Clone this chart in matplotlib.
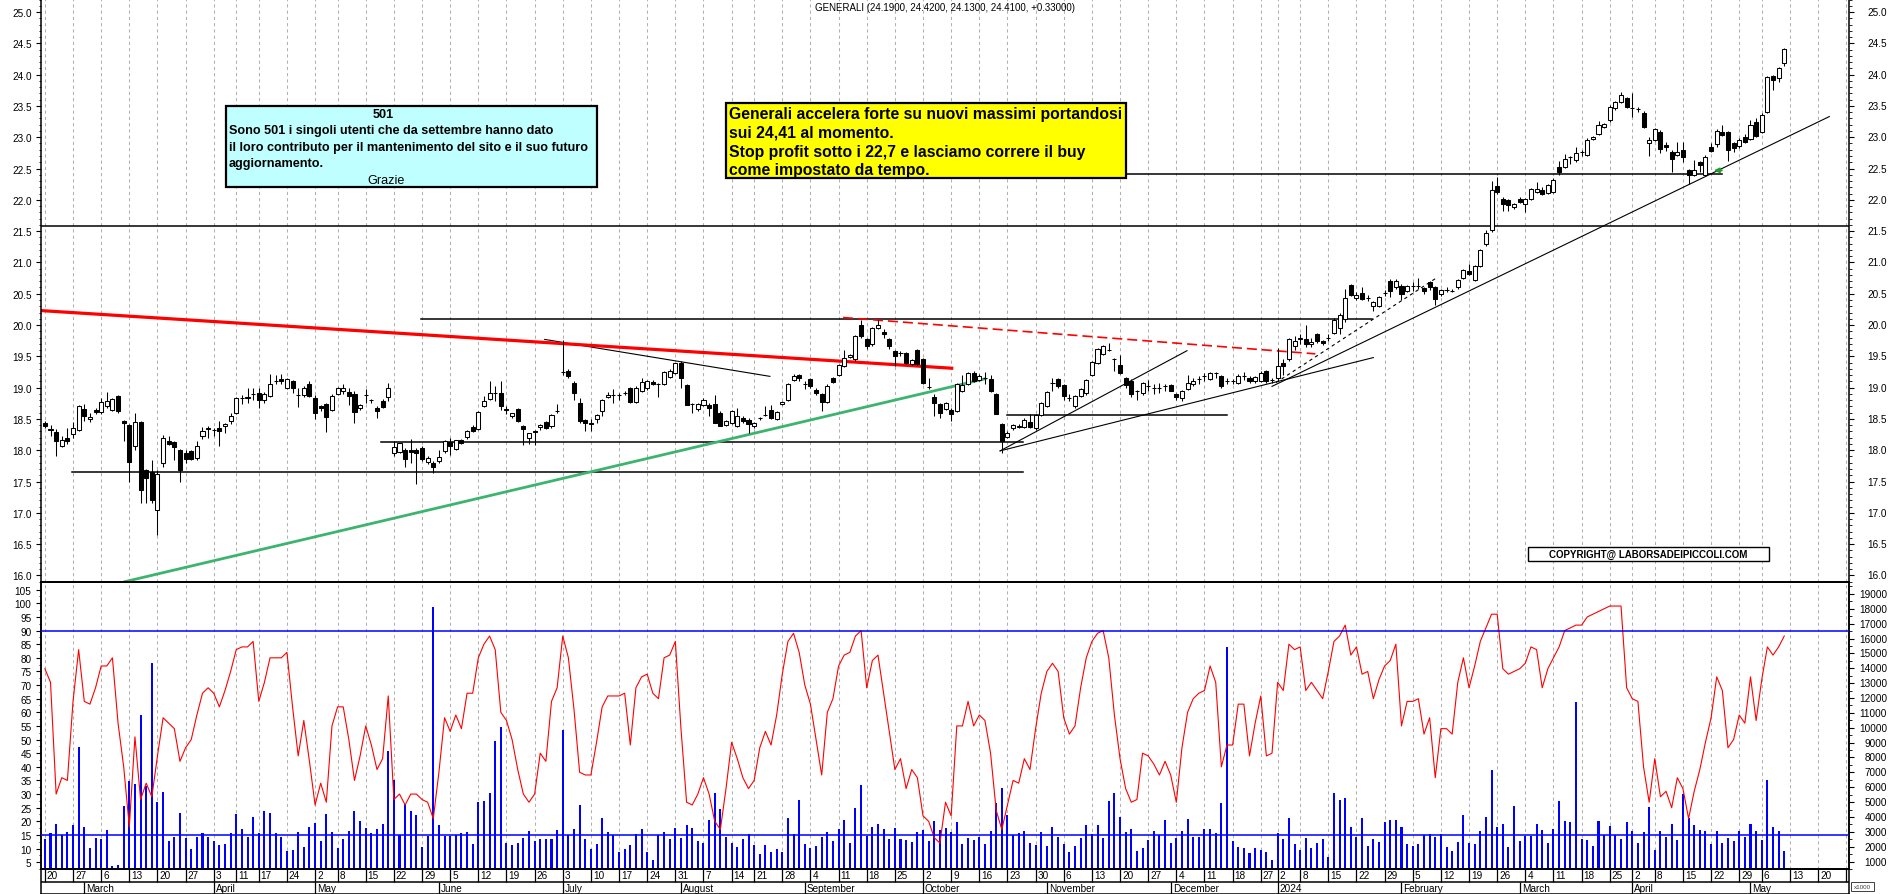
import matplotlib
matplotlib.use("Agg")
import matplotlib.pyplot as plt
import matplotlib.transforms as mtransforms
from matplotlib.patches import Rectangle
from matplotlib.ticker import FormatStrFormatter
import numpy as np
import pandas as pd

plt.rcParams['font.family'] = ['Liberation Sans', 'DejaVu Sans']

# trading calendar (Borsa Italiana), candles are plotted by trading-day index
holidays = pd.to_datetime(['2023-04-07', '2023-04-10', '2023-05-01', '2023-08-15',
                           '2023-12-25', '2023-12-26', '2024-01-01', '2024-03-29',
                           '2024-04-01', '2024-05-01'])
cal = pd.bdate_range('2023-02-20', '2024-05-31')
cal = cal[~cal.isin(holidays)]

opens = [
    18.44, 18.34, 18.29, 18.07, 18.19, 18.26, 18.32, 18.66, 18.50, 18.64,
    18.61, 18.70, 18.65, 18.86, 18.46, 18.40, 18.06, 18.45, 17.68, 17.65,
    17.04, 17.79, 18.15, 18.13, 18.00, 17.95, 17.98, 17.88, 18.22, 18.34,
    18.33, 18.35, 18.38, 18.46, 18.60, 18.83, 18.84, 18.90, 18.92, 18.80,
    18.87, 19.10, 19.14, 19.00, 19.10, 18.88, 18.89, 19.05, 18.84, 18.70,
    18.74, 18.64, 18.90, 18.95, 18.93, 18.90, 18.67, 18.88, 18.80, 18.68,
    18.79, 18.85, 17.95, 17.97, 18.00, 18.00, 18.01, 18.03, 17.81, 17.80,
    17.82, 17.98, 18.13, 18.02, 18.16, 18.21, 18.37, 18.34, 18.71, 18.82,
    18.91, 18.92, 18.66, 18.54, 18.66, 18.38, 18.20, 18.31, 18.37, 18.45,
    18.38, 18.63, 19.25, 19.27, 19.08, 18.75, 18.48, 18.44, 18.50, 18.63,
    18.85, 18.88, 18.88, 18.92, 18.99, 18.77, 18.95, 18.99, 19.09, 19.05,
    19.06, 19.17, 19.23, 19.39, 19.04, 18.74, 18.66, 18.72, 18.72, 18.74,
    18.60, 18.40, 18.44, 18.39, 18.52, 18.48, 18.38, 18.51, 18.56, 18.65,
    18.50, 18.74, 18.80, 19.12, 19.20, 19.06, 19.14, 18.97, 18.90, 18.77,
    19.15, 19.20, 19.35, 19.49, 19.45, 20.00, 19.77, 19.69, 19.95, 19.89,
    19.78, 19.58, 19.55, 19.55, 19.38, 19.60, 19.46, 19.01, 18.85, 18.74,
    18.66, 18.65, 18.63, 18.95, 19.06, 19.23, 19.12, 19.16, 19.14, 18.90,
    18.42, 18.21, 18.35, 18.37, 18.37, 18.45, 18.35, 18.56, 18.71, 19.07,
    19.14, 19.04, 18.83, 18.70, 18.87, 18.91, 19.20, 19.40, 19.54, 19.60,
    19.46, 19.36, 19.15, 19.11, 18.94, 18.91, 19.03, 19.00, 18.99, 19.03,
    19.04, 18.90, 18.83, 18.98, 19.06, 19.14, 19.18, 19.14, 19.23, 19.18,
    19.10, 19.11, 19.07, 19.18, 19.16, 19.10, 19.11, 19.26, 19.12, 19.15,
    19.39, 19.45, 19.67, 19.77, 19.77, 19.70, 19.86, 19.74, 19.80, 19.87,
    19.95, 20.10, 20.64, 20.43, 20.51, 20.43, 20.30, 20.31, 20.51, 20.71,
    20.60, 20.63, 20.55, 20.62, 20.63, 20.59, 20.69, 20.60, 20.49, 20.56,
    20.55, 20.60, 20.75, 20.86, 20.72, 20.95, 21.29, 21.51, 22.22, 22.01,
    21.99, 21.88, 22.01, 21.93, 22.01, 22.13, 22.16, 22.11, 22.13, 22.52,
    22.53, 22.68, 22.63, 22.77, 22.72, 22.97, 23.05, 23.17, 23.27, 23.46,
    23.57, 23.62, 23.46, 23.45, 23.38, 22.90, 22.96, 23.09, 22.88, 22.77,
    22.72, 22.80, 22.48, 22.40, 22.60, 22.40, 22.85, 22.89, 23.09, 23.08,
    22.90, 22.86, 23.01, 22.97, 23.25, 23.09, 23.41, 23.97, 23.94, 24.19,
]
highs = [
    18.47, 18.40, 18.34, 18.22, 18.36, 18.45, 18.72, 18.74, 18.60, 18.68,
    18.83, 18.93, 18.84, 18.89, 18.48, 18.42, 18.60, 18.46, 17.70, 17.85,
    17.68, 18.25, 18.22, 18.15, 18.02, 18.00, 18.00, 18.15, 18.37, 18.39,
    18.35, 18.47, 18.43, 18.60, 18.85, 18.88, 18.99, 19.00, 19.00, 18.93,
    19.22, 19.20, 19.22, 19.16, 19.12, 19.00, 19.02, 19.10, 18.88, 18.72,
    18.75, 18.90, 19.01, 19.05, 19.00, 18.94, 18.74, 18.98, 18.82, 18.70,
    18.82, 19.07, 18.15, 18.12, 18.03, 18.18, 18.03, 18.07, 17.90, 17.82,
    18.00, 18.16, 18.20, 18.17, 18.18, 18.33, 18.40, 18.62, 18.87, 19.10,
    19.02, 19.10, 18.70, 18.60, 18.68, 18.40, 18.28, 18.33, 18.42, 18.47,
    18.58, 18.74, 19.76, 19.30, 19.10, 18.83, 18.50, 18.50, 18.58, 18.82,
    18.93, 18.98, 18.92, 18.94, 19.01, 19.03, 19.15, 19.12, 19.12, 19.08,
    19.27, 19.30, 19.40, 19.42, 19.06, 18.76, 18.76, 18.83, 18.76, 18.88,
    18.62, 18.49, 18.65, 18.67, 18.54, 18.52, 18.45, 18.53, 18.70, 18.72,
    18.63, 18.79, 19.08, 19.21, 19.22, 19.10, 19.16, 18.99, 18.92, 19.05,
    19.17, 19.38, 19.60, 19.54, 19.84, 20.08, 19.80, 19.97, 20.08, 19.94,
    19.80, 19.60, 19.58, 19.57, 19.46, 19.62, 19.48, 19.15, 18.90, 18.76,
    18.77, 18.67, 19.08, 19.20, 19.25, 19.26, 19.22, 19.25, 19.20, 18.92,
    18.44, 18.30, 18.42, 18.42, 18.51, 18.58, 18.58, 18.77, 18.95, 19.15,
    19.16, 19.06, 18.90, 18.88, 19.00, 19.14, 19.43, 19.64, 19.68, 19.72,
    19.48, 19.52, 19.17, 19.13, 18.96, 19.09, 19.12, 19.05, 19.08, 19.06,
    19.06, 18.92, 18.96, 19.20, 19.15, 19.18, 19.24, 19.25, 19.25, 19.20,
    19.15, 19.14, 19.21, 19.25, 19.18, 19.19, 19.26, 19.28, 19.15, 19.63,
    19.45, 19.80, 19.82, 19.86, 20.00, 19.80, 19.88, 19.76, 19.85, 20.12,
    20.20, 20.58, 20.66, 20.52, 20.60, 20.48, 20.38, 20.46, 20.56, 20.73,
    20.73, 20.65, 20.64, 20.68, 20.75, 20.61, 20.71, 20.62, 20.58, 20.60,
    20.58, 20.74, 20.90, 20.97, 20.96, 21.22, 21.52, 22.30, 22.36, 22.05,
    22.01, 21.95, 22.04, 22.03, 22.19, 22.28, 22.20, 22.25, 22.35, 22.62,
    22.73, 22.70, 22.85, 22.80, 22.98, 23.02, 23.26, 23.23, 23.51, 23.58,
    23.72, 23.64, 23.70, 23.49, 23.42, 23.00, 23.15, 23.11, 22.92, 22.79,
    22.92, 22.92, 22.50, 22.63, 22.62, 22.71, 22.90, 23.13, 23.20, 23.10,
    22.92, 22.98, 23.05, 23.28, 23.30, 23.38, 23.98, 24.00, 24.12, 24.42,
]
lows = [
    18.35, 18.22, 17.91, 18.05, 18.10, 18.20, 18.30, 18.47, 18.45, 18.58,
    18.58, 18.68, 18.63, 18.60, 18.15, 17.50, 18.00, 17.16, 17.16, 17.16,
    16.65, 17.74, 18.08, 17.85, 17.50, 17.80, 17.84, 17.85, 18.18, 18.20,
    18.22, 18.06, 18.27, 18.42, 18.58, 18.74, 18.75, 18.80, 18.68, 18.76,
    18.85, 19.05, 19.05, 18.98, 18.92, 18.69, 18.85, 18.85, 18.50, 18.62,
    18.29, 18.62, 18.88, 18.90, 18.73, 18.43, 18.65, 18.75, 18.76, 18.52,
    18.67, 18.78, 17.90, 17.95, 17.73, 17.80, 17.46, 17.82, 17.78, 17.63,
    17.80, 17.95, 17.92, 18.00, 18.10, 18.18, 18.29, 18.32, 18.69, 18.80,
    18.78, 18.65, 18.58, 18.52, 18.45, 18.09, 18.10, 18.09, 18.33, 18.34,
    18.36, 18.60, 19.20, 19.16, 18.80, 18.43, 18.30, 18.30, 18.44, 18.55,
    18.83, 18.76, 18.80, 18.88, 18.75, 18.75, 18.93, 18.97, 19.04, 18.85,
    19.04, 19.15, 19.21, 19.00, 18.73, 18.60, 18.62, 18.70, 18.55, 18.44,
    18.38, 18.38, 18.42, 18.37, 18.44, 18.27, 18.36, 18.49, 18.54, 18.50,
    18.48, 18.72, 18.78, 19.10, 19.10, 18.98, 19.00, 18.88, 18.62, 18.75,
    19.07, 19.18, 19.33, 19.47, 19.43, 19.80, 19.62, 19.67, 19.93, 19.80,
    19.62, 19.35, 19.50, 19.38, 19.36, 19.36, 19.05, 18.98, 18.55, 18.52,
    18.64, 18.47, 18.61, 18.93, 19.04, 19.09, 19.10, 19.05, 18.93, 18.58,
    17.95, 18.19, 18.33, 18.35, 18.35, 18.35, 18.33, 18.54, 18.69, 18.95,
    19.00, 18.80, 18.78, 18.68, 18.85, 18.89, 19.18, 19.38, 19.52, 19.58,
    19.26, 19.22, 19.00, 18.85, 18.80, 18.89, 18.95, 18.90, 18.92, 18.95,
    18.94, 18.80, 18.78, 18.96, 19.03, 19.05, 19.10, 19.12, 19.15, 19.00,
    19.05, 19.05, 19.05, 19.12, 19.08, 19.08, 19.09, 19.08, 19.08, 19.10,
    19.20, 19.43, 19.60, 19.70, 19.65, 19.65, 19.72, 19.68, 19.75, 19.85,
    19.85, 20.05, 20.46, 20.40, 20.40, 20.38, 20.22, 20.29, 20.46, 20.45,
    20.58, 20.40, 20.53, 20.55, 20.58, 20.50, 20.56, 20.32, 20.47, 20.52,
    20.52, 20.58, 20.73, 20.80, 20.70, 20.93, 21.27, 21.49, 22.10, 21.82,
    21.82, 21.86, 21.95, 21.80, 21.99, 22.11, 22.07, 22.09, 22.11, 22.40,
    22.51, 22.58, 22.61, 22.70, 22.70, 22.95, 23.03, 23.15, 23.25, 23.44,
    23.55, 23.46, 23.33, 23.40, 23.15, 22.70, 22.94, 22.75, 22.78, 22.45,
    22.70, 22.60, 22.25, 22.38, 22.45, 22.38, 22.77, 22.85, 23.02, 22.62,
    22.76, 22.82, 22.90, 22.95, 23.00, 23.07, 23.39, 23.75, 23.88, 24.13,
]
closes = [
    18.39, 18.33, 18.14, 18.16, 18.15, 18.35, 18.71, 18.54, 18.53, 18.61,
    18.77, 18.78, 18.82, 18.63, 18.44, 17.81, 18.45, 17.36, 17.56, 17.21,
    17.62, 18.19, 18.10, 18.05, 17.69, 17.86, 17.86, 18.07, 18.30, 18.35,
    18.33, 18.30, 18.42, 18.55, 18.83, 18.84, 18.85, 18.90, 18.80, 18.90,
    19.06, 19.10, 19.10, 19.14, 19.00, 18.88, 19.00, 18.87, 18.59, 18.67,
    18.53, 18.86, 19.00, 18.99, 18.87, 18.61, 18.72, 18.88, 18.80, 18.63,
    18.69, 19.00, 18.05, 18.12, 17.86, 17.97, 17.96, 17.86, 17.87, 17.73,
    17.89, 18.14, 18.06, 18.16, 18.12, 18.31, 18.31, 18.61, 18.79, 18.92,
    18.92, 18.70, 18.65, 18.59, 18.47, 18.34, 18.27, 18.29, 18.40, 18.36,
    18.57, 18.63, 19.25, 19.18, 18.92, 18.47, 18.44, 18.42, 18.57, 18.80,
    18.89, 18.88, 18.88, 18.92, 18.77, 19.00, 19.09, 19.10, 19.06, 19.05,
    19.25, 19.27, 19.39, 19.15, 18.73, 18.74, 18.74, 18.81, 18.67, 18.44,
    18.38, 18.47, 18.63, 18.55, 18.47, 18.42, 18.43, 18.51, 18.56, 18.52,
    18.61, 18.77, 19.06, 19.19, 19.15, 19.06, 19.02, 18.92, 18.77, 19.02,
    19.09, 19.36, 19.48, 19.52, 19.82, 19.83, 19.67, 19.95, 20.00, 19.85,
    19.67, 19.51, 19.55, 19.40, 19.44, 19.38, 19.08, 19.01, 18.76, 18.60,
    18.75, 18.58, 19.06, 19.04, 19.23, 19.11, 19.18, 19.16, 18.95, 18.58,
    18.15, 18.28, 18.40, 18.39, 18.49, 18.37, 18.56, 18.75, 18.93, 19.07,
    19.03, 18.87, 18.83, 18.86, 18.98, 19.12, 19.41, 19.62, 19.66, 19.60,
    19.46, 19.24, 19.04, 18.90, 18.94, 19.07, 19.03, 19.00, 18.99, 19.03,
    18.95, 18.85, 18.94, 19.07, 19.11, 19.14, 19.18, 19.23, 19.23, 19.03,
    19.10, 19.11, 19.19, 19.18, 19.10, 19.17, 19.24, 19.10, 19.12, 19.35,
    19.35, 19.77, 19.74, 19.80, 19.70, 19.73, 19.75, 19.71, 19.80, 20.08,
    20.16, 20.43, 20.48, 20.48, 20.42, 20.43, 20.36, 20.44, 20.51, 20.55,
    20.71, 20.49, 20.62, 20.62, 20.63, 20.55, 20.60, 20.42, 20.56, 20.56,
    20.55, 20.72, 20.88, 20.82, 20.94, 21.20, 21.47, 22.15, 22.13, 21.93,
    21.91, 21.93, 21.97, 22.01, 22.17, 22.18, 22.09, 22.23, 22.31, 22.44,
    22.66, 22.69, 22.74, 22.77, 22.96, 23.00, 23.19, 23.21, 23.49, 23.56,
    23.67, 23.48, 23.46, 23.45, 23.17, 22.96, 23.13, 22.81, 22.84, 22.66,
    22.77, 22.68, 22.39, 22.48, 22.55, 22.69, 22.78, 23.10, 23.04, 22.79,
    22.82, 22.95, 22.93, 23.20, 23.02, 23.35, 23.96, 23.92, 24.10, 24.41,
]
# red oscillator, left scale of the lower panel
osc = [
    76, 71, 30, 36, 35, 64, 83, 64, 63, 69,
    77, 77, 80, 56, 40, 18, 51, 28, 34, 29,
    44, 58, 56, 54, 42, 47, 50, 59, 67, 69,
    67, 62, 68, 75, 83, 84, 84, 86, 64, 71,
    80, 80, 80, 82, 62, 44, 57, 42, 26, 34,
    27, 55, 62, 62, 50, 35, 44, 55, 48, 39,
    43, 66, 28, 30, 26, 30, 30, 28, 27, 21,
    38, 58, 53, 59, 54, 67, 67, 80, 85, 88,
    83, 60, 57, 50, 39, 30, 27, 30, 45, 42,
    64, 69, 88, 80, 61, 38, 37, 37, 49, 62,
    66, 66, 66, 67, 48, 69, 73, 74, 67, 65,
    80, 81, 86, 54, 27, 26, 30, 36, 30, 20,
    17, 32, 49, 43, 36, 32, 35, 47, 53, 48,
    59, 74, 86, 89, 82, 70, 63, 50, 37, 60,
    65, 77, 81, 82, 88, 90, 69, 79, 81, 67,
    53, 39, 43, 32, 39, 36, 22, 20, 14, 12,
    27, 22, 55, 55, 64, 55, 59, 57, 45, 24,
    17, 26, 35, 34, 43, 39, 54, 67, 75, 78,
    75, 58, 52, 55, 69, 80, 86, 89, 90, 80,
    59, 43, 32, 27, 28, 45, 44, 41, 37, 42,
    37, 27, 47, 60, 65, 67, 68, 77, 71, 40,
    48, 48, 63, 63, 44, 56, 66, 44, 45, 71,
    68, 85, 83, 84, 68, 71, 68, 65, 75, 86,
    88, 92, 81, 84, 74, 75, 65, 72, 77, 79,
    85, 55, 64, 64, 65, 52, 58, 36, 54, 54,
    52, 71, 80, 69, 77, 86, 91, 96, 96, 76,
    74, 75, 76, 78, 84, 83, 69, 76, 80, 84,
    90, 91, 92, 92, 95, 96, 97, 98, 99, 99,
    99, 69, 65, 64, 40, 27, 43, 29, 31, 25,
    36, 32, 21, 31, 39, 49, 58, 73, 68, 47,
    50, 59, 56, 73, 57, 72, 84, 81, 84, 88,
]
# volume, right scale of the lower panel
volume = [
    2530, 2930, 3530, 2820, 3000, 3490, 8730, 3310, 1920, 2590,
    2550, 3150, 670, 800, 4710, 6430, 6230, 10850, 6050, 14380,
    5000, 5670, 2370, 2660, 4270, 2590, 1860, 2660, 2930, 2660,
    2370, 2100, 2150, 2930, 4200, 3220, 2680, 4000, 2930, 4380,
    4270, 2930, 2680, 1700, 1790, 3000, 1990, 3330, 3580, 2410,
    4200, 3000, 1920, 2550, 3040, 4380, 3710, 3260, 2930, 3200,
    3530, 8440, 6500, 2770, 4870, 4420, 4110, 1970, 2710, 18100,
    3490, 2750, 2710, 2820, 2930, 3000, 2210, 4980, 5050, 5600,
    9100, 10080, 2280, 2120, 2230, 2570, 3060, 2390, 2500, 2500,
    2500, 3100, 9870, 2790, 3170, 4800, 2500, 1830, 2170, 3910,
    3010, 2790, 1610, 1830, 2120, 2880, 3170, 1610, 1090, 2790,
    3010, 2500, 3240, 2570, 3460, 3240, 2390, 2280, 3770, 5630,
    4510, 2660, 2280, 1990, 2500, 2880, 2100, 1540, 2100, 1610,
    1830, 1610, 3910, 2880, 5130, 2210, 1900, 2050, 2660, 2990,
    2390, 3170, 3770, 2280, 4620, 6140, 2720, 3330, 3510, 3170,
    2550, 3280, 2500, 2460, 2320, 2990, 3100, 2390, 3730, 3100,
    3280, 2990, 3680, 2210, 2570, 2430, 2660, 2170, 3060, 4960,
    5920, 4130, 2790, 2900, 3060, 2280, 2100, 2990, 2050, 3330,
    2660, 2170, 1610, 2050, 2570, 3440, 2840, 3440, 2570, 5070,
    5580, 4000, 2990, 3170, 1680, 1900, 2460, 3060, 2790, 3800,
    2230, 2570, 3060, 3840, 2660, 2660, 3220, 3170, 2900, 4960,
    15430, 2390, 1990, 1880, 1560, 1940, 1790, 1650, 1120, 2900,
    2500, 3910, 2170, 1760, 2570, 1940, 2230, 2500, 1320, 5580,
    5130, 5290, 3350, 2660, 3910, 2050, 2500, 2320, 3680, 3800,
    3800, 3330, 2190, 2080, 2150, 2770, 2860, 2640, 2880, 1970,
    1700, 2300, 4110, 2260, 2190, 3040, 3980, 7130, 3310, 3530,
    1970, 4710, 2370, 2710, 2710, 3530, 3150, 2260, 3200, 5090,
    3750, 3660, 11750, 2550, 2440, 2080, 3710, 2820, 3380, 2820,
    2550, 3640, 3080, 2260, 3000, 4650, 1750, 3080, 2660, 3530,
    2480, 5540, 3930, 3490, 3150, 3080, 2190, 3080, 2260, 2590,
    2370, 3080, 2640, 3530, 3040, 2480, 6460, 3310, 3080, 1700,
]

# drawn studies: (start index, start price, end index, end price)
hlines_black = [
    (4.9, 17.65, 173.8, 17.65),
    (59.8, 18.13, 173.8, 18.13),
    (66.9, 20.09, 235.7, 20.09),
    (170.9, 18.56, 210.0, 18.56),
    (150.0, 22.41, 297.9, 22.41),
]
trend_black = [
    (88.8, 19.77, 128.8, 19.18),
    (169.7, 17.99, 202.9, 19.59),
    (169.7, 17.99, 236.0, 19.48),
    (218.0, 19.02, 317.0, 23.33),
]
trend_dashed = [(218.7, 19.08, 247.0, 20.74)]
red_line = (-0.6, 20.23, 161.1, 19.31)
red_dashed = (141.8, 20.12, 225.7, 19.54)
green_line = (14.2, 15.90, 167.0, 19.14)
level_full = 21.58

title = 'GENERALI (24.1900, 24.4200, 24.1300, 24.4100, +0.33000)'
cyan_lines = ['Sono 501 i singoli utenti che da settembre hanno dato',
              'il loro contributo per il mantenimento del sito e il suo futuro',
              'aggiornamento.']
yellow_lines = ['Generali accelera forte su nuovi massimi portandosi',
                'sui 24,41 al momento.',
                'Stop profit sotto i 22,7 e lasciamo correre il buy',
                'come impostato da tempo.']

assert len(opens) == len(highs) == len(lows) == len(closes) == len(osc) == len(volume) == 310

n = len(closes)
x = np.arange(n)
o = np.array(opens)
c = np.array(closes)

W_PX, H_PX = 1890, 895
def fx(px):
    return px / W_PX
def fy(py):
    return 1 - py / H_PX

fig = plt.figure(figsize=(18.9, 8.95), dpi=100)
L, R = 41.5 / W_PX, 1849 / W_PX
W = R - L
ax1 = fig.add_axes([L, fy(583), W, 583 / H_PX])
ax2 = fig.add_axes([L, fy(870), W, (870 - 583) / H_PX], sharex=ax1)
axd = fig.add_axes([L, 0, W, 25 / H_PX], sharex=ax1)
ax2v = ax2.twinx()
ax2.set_zorder(ax2v.get_zorder() + 1)
ax2.patch.set_visible(False)

ax1.set_xlim(-0.6, 320.5)
ax1.set_ylim(15.895, 25.208)
ax2.set_ylim(2.54, 107.82)
ax2v.set_ylim(593, 19800)

# week / month starts
wk_start = [0] + [k for k in range(1, len(cal))
                  if cal[k].isocalendar()[1] != cal[k - 1].isocalendar()[1]]
mo_start = [k for k in range(1, len(cal)) if cal[k].month != cal[k - 1].month]

grid_kw = dict(color='#b0b0b0', lw=0.75, ls=(0, (3, 3)), zorder=0)
for k in wk_start:
    ax1.axvline(k, **grid_kw)
    ax2v.axvline(k, **grid_kw)

# candles
up = c >= o
ax1.vlines(x, lows, highs, color='black', lw=0.75, zorder=3)
ax1.bar(x, np.abs(c - o), bottom=np.minimum(o, c), width=0.72,
        color=np.where(up, 'white', 'black'), edgecolor='black', linewidth=0.75, zorder=4)

# studies
ax1.axhline(level_full, color='black', lw=1.1, zorder=2)
for i0, p0, i1, p1 in hlines_black:
    ax1.plot([i0, i1], [p0, p1], color='black', lw=1.1, zorder=2)
for i0, p0, i1, p1 in trend_black:
    ax1.plot([i0, i1], [p0, p1], color='black', lw=0.8, zorder=2)
for i0, p0, i1, p1 in trend_dashed:
    ax1.plot([i0, i1], [p0, p1], color='black', lw=0.8, ls=(0, (3, 3)), zorder=2)
ax1.plot(red_line[::2], red_line[1::2], color='#ff0000', lw=2.3, zorder=2)
ax1.plot(red_dashed[::2], red_dashed[1::2], color='#ff0000', lw=1.2, ls=(0, (6, 3)), zorder=2)
ax1.plot(green_line[::2], green_line[1::2], color='#3cb46e', lw=2.0, zorder=2)
ax1.annotate('', xy=(296.0, 22.47), xytext=(298.4, 22.47),
             arrowprops=dict(arrowstyle='-|>', color='#1f9e2a', lw=1.4, mutation_scale=7),
             zorder=5)

# lower panel
ax2v.bar(x, volume, width=0.36, color='#0000ff', zorder=2)
ax2.plot(x, osc, color='#ff0000', lw=0.8, zorder=3)
ax2.axhline(90, color='#0000ff', lw=1.1, zorder=3)
ax2.axhline(15, color='#0000ff', lw=1.1, zorder=3)

# ticks
for ax in (ax1, ax2):
    ax.tick_params(axis='x', which='both', bottom=False, labelbottom=False)
axd.tick_params(axis='both', which='both', bottom=False, left=False,
                labelbottom=False, labelleft=False)

tk = dict(direction='out', labelsize=7.2, colors='black')
ax1.set_yticks(np.arange(16, 25.01, 0.5))
ax1.set_yticks(np.arange(15.9, 25.21, 0.1), minor=True)
ax1.yaxis.set_major_formatter(FormatStrFormatter('%.1f'))
ax1.tick_params(axis='y', which='major', length=3.6, width=0.8, left=True, right=True,
                labelleft=True, labelright=False, **tk)
ax1.tick_params(axis='y', which='minor', length=1.8, width=0.6, left=True, right=True)

ax2.set_yticks(np.arange(5, 106, 5))
ax2.set_yticks(np.arange(2.5, 107, 2.5), minor=True)
ax2.tick_params(axis='y', which='major', length=3.6, width=0.8, left=True, right=False, **tk)
ax2.tick_params(axis='y', which='minor', length=1.8, width=0.6, left=True, right=False)

ax2v.set_yticks(np.arange(1000, 19001, 1000))
ax2v.set_yticks(np.arange(500, 19801, 500), minor=True)
ax2v.tick_params(axis='y', which='major', length=3.6, width=0.8, right=True,
                 labelright=False, **tk)
ax2v.tick_params(axis='y', which='minor', length=1.8, width=0.6, right=True)

# right-hand labels, right aligned like the original
xr = 1 + (1887 - 1849) / (1849 - 41.5)
tr1 = mtransforms.blended_transform_factory(ax1.transAxes, ax1.transData)
for v in np.arange(16, 25.01, 0.5):
    ax1.text(xr, v, f'{v:.1f}', transform=tr1, ha='right', va='center', fontsize=7.2)
tr2 = mtransforms.blended_transform_factory(ax2v.transAxes, ax2v.transData)
for v in range(1000, 19001, 1000):
    ax2v.text(xr, v, f'{v}', transform=tr2, ha='right', va='center', fontsize=7.2)

for ax in (ax1, ax2, ax2v, axd):
    for s in ax.spines.values():
        s.set_linewidth(1.1)
ax1.spines['top'].set_visible(False)

# date rows
axd.set_ylim(0, 1)
axd.axhline(0.49, color='black', lw=1.1)
axd.vlines(wk_start, 0.49, 1, color='black', lw=0.9)
axd.vlines(mo_start, 0, 0.49, color='black', lw=0.9)
for k in wk_start:
    axd.text(k + 0.35, 0.75, str(cal[k].day), ha='left', va='center',
             fontsize=7.2, clip_on=True)
for k in mo_start:
    name = str(cal[k].year) if cal[k].month == 1 else cal[k].strftime('%B')
    axd.text(k + 0.35, 0.22, name, ha='left', va='center', fontsize=7.2, clip_on=True)

# title and notes
fig.text(fx(945), fy(8), title, ha='center', va='center', fontsize=7)

fig.patches.append(Rectangle((fx(226), fy(187.7)), fx(597) - fx(226), (187.7 - 106.7) / H_PX,
                             transform=fig.transFigure, facecolor='#c0ffff',
                             edgecolor='black', lw=1.6, zorder=10))
fig.text(fx(383), fy(115.5), '501', ha='center', va='center', fontsize=9.1,
         fontweight='bold', zorder=11)
for j, line in enumerate(cyan_lines):
    fig.text(fx(229), fy(131 + 16.5 * j), line, ha='left', va='center', fontsize=9.1,
             fontweight='bold', zorder=11)
fig.text(fx(386), fy(180.5), 'Grazie', ha='center', va='center', fontsize=9.1, zorder=11)

fig.patches.append(Rectangle((fx(726), fy(179)), fx(1126) - fx(726), (179 - 104.3) / H_PX,
                             transform=fig.transFigure, facecolor='#ffff00',
                             edgecolor='black', lw=1.6, zorder=10))
for j, line in enumerate(yellow_lines):
    fig.text(fx(729), fy(114 + 19 * j), line, ha='left', va='center', fontsize=11.3,
             fontweight='bold', zorder=11)

fig.patches.append(Rectangle((fx(1528), fy(562)), fx(1769) - fx(1528), 14 / H_PX,
                             transform=fig.transFigure, facecolor='white',
                             edgecolor='black', lw=1.0, zorder=10))
fig.text(fx(1648.5), fy(555), 'COPYRIGHT@ LABORSADEIPICCOLI.COM', ha='center', va='center',
         fontsize=7, fontweight='bold', zorder=11)

# unit box, kept clear of the last volume label
fig.patches.append(Rectangle((fx(1851), fy(892)), fx(1874) - fx(1851), 9 / H_PX,
                             transform=fig.transFigure, facecolor='white',
                             edgecolor='#404040', lw=0.7, zorder=10))
fig.text(fx(1862.5), fy(887.5), 'x1000', ha='center', va='center', fontsize=4.5,
         color='#404040', zorder=11)

fig.savefig('out.png', dpi=100, facecolor='white')
